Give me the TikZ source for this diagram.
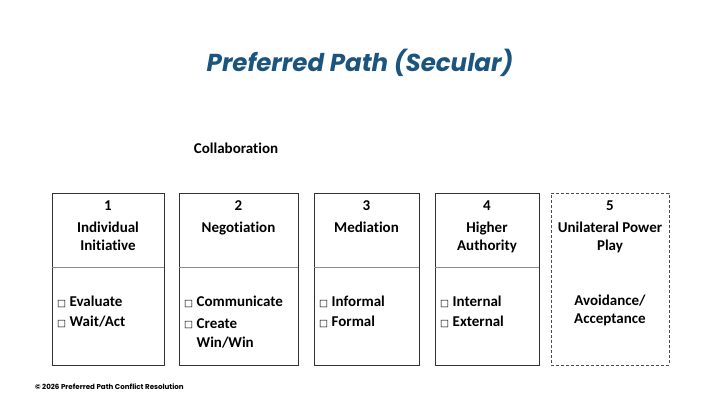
\documentclass[tikz,border=0pt]{standalone}
\usepackage{fontspec}
\usetikzlibrary{calc}
\setmainfont[Ligatures=NoCommon]{Carlito}
\newfontfamily\titlefont{Poppins}
\newfontfamily\symfont{DejaVu Sans}
\definecolor{titleblue}{HTML}{1B557F}
\definecolor{boxline}{HTML}{333333}
\definecolor{divline}{HTML}{8A8A8A}
\newcommand{\cbx}{{\symfont\fontsize{9.5}{9}\selectfont\raisebox{0.5pt}{□}}\hspace{3.5pt}}
\begin{document}
\begin{tikzpicture}[x=1pt,y=-1pt,
  cell/.style={draw=boxline, line width=0.9pt, inner sep=0pt, outer sep=0pt, anchor=north west},
  dcell/.style={cell, dashed, draw=black!70, line width=0.7pt, dash pattern=on 3pt off 2pt},
  divider/.style={draw=divline, line width=0.8pt},
  numtxt/.style={font=\bfseries\fontsize{15}{18}\selectfont, inner sep=0pt},
  headtxt/.style={font=\bfseries\fontsize{15}{18}\selectfont, align=center, inner sep=0pt, anchor=north},
  itemtxt/.style={font=\bfseries\fontsize{15}{19}\selectfont, align=left, inner sep=0pt, anchor=west},
  ctrtxt/.style={font=\bfseries\fontsize{15}{18}\selectfont, align=center, inner sep=0pt, anchor=north}]
\useasboundingbox[fill=white] (0,0) rectangle (720,405);

% title
\node[font=\titlefont\bfseries\itshape\fontsize{24.5}{28}\selectfont, text=titleblue, inner sep=0pt] (title) at (360,63) {Preferred Path (Secular)};
\node[font=\bfseries\fontsize{15}{18}\selectfont, inner sep=0pt] (collab) at (236,148) {Collaboration};

% boxes
\node[cell, minimum width=112pt, minimum height=172pt] (b1) at (52,193) {};
\node[cell, minimum width=119pt, minimum height=172pt] (b2) at (179,193) {};
\node[cell, minimum width=105pt, minimum height=172pt] (b3) at (314,193) {};
\node[cell, minimum width=104pt, minimum height=172pt] (b4) at (435,193) {};
\node[dcell, minimum width=118pt, minimum height=172pt] (b5) at (551,193) {};

% dividers
\foreach \b in {b1,b2,b3,b4}{
  \coordinate (\b l) at ($(\b.north west)+(0,74)$);
  \coordinate (\b r) at ($(\b.north east)+(0,74)$);
  \draw[divider] (\b l) -- (\b r);
}

% numbers
\node[numtxt] (n1) at (b1.north |- 0,206) {1};
\node[numtxt] (n2) at (b2.north |- 0,206) {2};
\node[numtxt] (n3) at (b3.north |- 0,206) {3};
\node[numtxt] (n4) at (b4.north |- 0,206) {4};
\node[numtxt] (n5) at (b5.north |- 0,206) {5};

% headings
\node[headtxt] (h1) at (b1.north |- 0,222) {Individual\\Initiative};
\node[headtxt] (h2) at (b2.north |- 0,222) {Negotiation};
\node[headtxt] (h3) at (b3.north |- 0,222) {Mediation};
\node[headtxt] (h4) at (b4.north |- 0,222) {Higher\\Authority};
\node[headtxt] (h5) at (b5.north |- 0,222) {Unilateral Power\\Play};

% items
\node[itemtxt] (i1a) at (57,302) {\cbx Evaluate};
\node[itemtxt] (i1b) at (57,322) {\cbx Wait/Act};
\node[itemtxt] (i2a) at (184,302) {\cbx Communicate};
\node[itemtxt, anchor=north west] (i2b) at (184,318) {\cbx Create\\\phantom{\cbx}Win/Win};
\node[itemtxt] (i3a) at (319,302) {\cbx Informal};
\node[itemtxt] (i3b) at (319,322) {\cbx Formal};
\node[itemtxt] (i4a) at (440,302) {\cbx Internal};
\node[itemtxt] (i4b) at (440,322) {\cbx External};
\node[ctrtxt] (i5) at (b5.north |- 0,295) {Avoidance/\\Acceptance};

% footer
\node[font=\titlefont\bfseries\fontsize{7.1}{8}\selectfont, anchor=west, inner sep=0pt] (copy) at (35,387) {© 2026 Preferred Path Conflict Resolution};
\end{tikzpicture}
\end{document}
